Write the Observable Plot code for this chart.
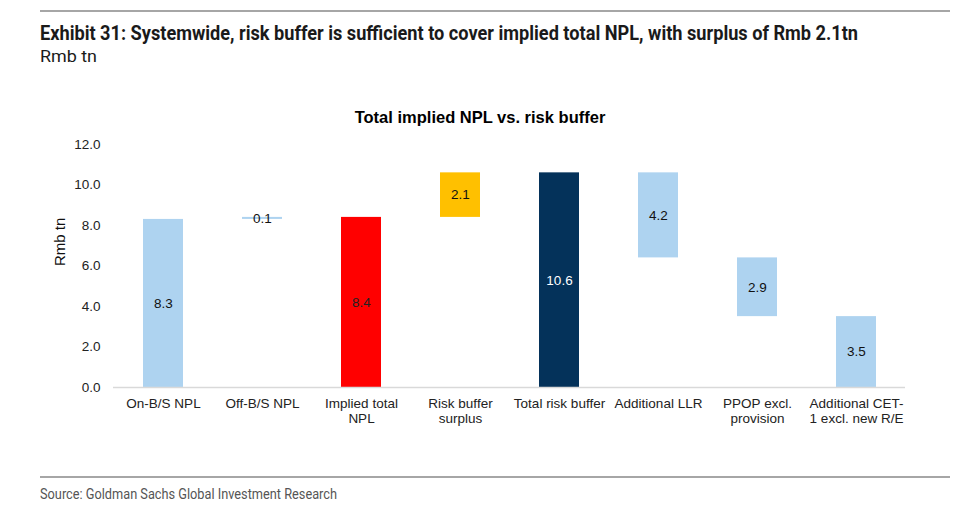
<!DOCTYPE html>
<html>
<head>
<meta charset="utf-8">
<script src="https://cdn.jsdelivr.net/npm/d3@7"></script>
<script src="https://cdn.jsdelivr.net/npm/@observablehq/plot@0.6"></script>
<style>
  html, body { margin: 0; padding: 0; background: #fff; }
  #page { position: relative; width: 960px; height: 516px; overflow: hidden; font-family: "Liberation Sans", Arial, sans-serif; }
  .rule { position: absolute; left: 40px; width: 910px; height: 2px; background: #a6a6a6; }
  .fit { position: absolute; left: 40px; white-space: nowrap; transform-origin: 0 50%; font-family: Roboto, "Liberation Sans", sans-serif; }
  #title { top: 21px; font-weight: bold; font-size: 20px; color: #1a1a1a; }
  #subtitle { top: 46px; font-size: 17px; color: #1a1a1a; }
  #ctitle { position: absolute; left: 0; width: 960px; top: 108px; text-align: center; font-weight: bold; font-size: 16.5px; color: #000; }
  #chart { position: absolute; left: 0; top: 70px; }
  #source { top: 486px; font-size: 14px; color: #555; }
</style>
</head>
<body>
<div id="page">
  <div class="rule" style="top:10px"></div>
  <div id="title" class="fit" data-w="818">Exhibit 31: Systemwide, risk buffer is sufficient to cover implied total NPL, with surplus of Rmb 2.1tn</div>
  <div id="subtitle" class="fit" data-w="57">Rmb tn</div>
  <div id="ctitle">Total implied NPL vs. risk buffer</div>
  <div id="chart"></div>
  <div class="rule" style="top:476px"></div>
  <div id="source" class="fit" data-w="297">Source: Goldman Sachs Global Investment Research</div>
</div>
<script>
const categories = ["On-B/S NPL", "Off-B/S NPL", "Implied total NPL", "Risk buffer surplus", "Total risk buffer", "Additional LLR", "PPOP excl. provision", "Additional CET-1 excl. new R/E"];
const tickLabels = ["On-B/S NPL", "Off-B/S NPL", "Implied total\nNPL", "Risk buffer\nsurplus", "Total risk buffer", "Additional LLR", "PPOP excl.\nprovision", "Additional CET-\n1 excl. new R/E"];
const barStart = [0, 8.3, 0, 8.4, 0, 6.4, 3.5, 0];
const barEnd = [8.3, 8.4, 8.4, 10.6, 10.6, 10.6, 6.4, 3.5];
const valueLabels = ["8.3", "0.1", "8.4", "2.1", "10.6", "4.2", "2.9", "3.5"];
const barKind = ["part", "part", "npl", "surplus", "buffer", "part", "part", "part"];
const yTicks = [0, 2, 4, 6, 8, 10, 12];

const kindColor = {part: "#AED3F0", npl: "#FF0000", surplus: "#FFC000", buffer: "#04325A"};
const kindText = {part: "#111", npl: "#222", surplus: "#111", buffer: "#fff"};

const data = categories.map((c, i) => ({
  cat: c, y1: barStart[i], y2: barEnd[i], label: valueLabels[i], kind: barKind[i], mid: (barStart[i] + barEnd[i]) / 2
}));
const tickMap = new Map(categories.map((c, i) => [c, tickLabels[i]]));

const chart = Plot.plot({
  width: 960,
  height: 400,
  marginLeft: 113,
  marginRight: 55,
  marginTop: 74,
  marginBottom: 83,
  style: {fontFamily: "'Liberation Sans', Arial, sans-serif", fontSize: "13.5px", color: "#222", background: "transparent"},
  x: {domain: categories, paddingInner: 0.6, paddingOuter: 0.3},
  y: {domain: [0, 12]},
  marks: [
    Plot.axisY({ticks: yTicks, tickFormat: d3.format(".1f"), tickSize: 0, tickPadding: 13, fontSize: 13.5, label: null}),
    Plot.axisX({tickSize: 0, tickPadding: 10, fontSize: 13.5, label: null, tickFormat: d => tickMap.get(d), lineHeight: 1.12}),
    Plot.text(["Rmb tn"], {frameAnchor: "left", dx: -53, rotate: -90, fontSize: 15, fill: "#111"}),
    Plot.barY(data, {x: "cat", y1: "y1", y2: "y2", fill: d => kindColor[d.kind]}),
    Plot.ruleY([0], {stroke: "#d9d9d9", strokeWidth: 1.5}),
    Plot.text(data, {x: "cat", y: "mid", text: "label", fill: d => kindText[d.kind], fontSize: 13.5})
  ]
});
document.getElementById("chart").appendChild(chart);

document.querySelectorAll(".fit").forEach(el => {
  const w = el.getBoundingClientRect().width;
  const target = +el.dataset.w;
  el.style.transform = `scaleX(${target / w})`;
});
</script>
</body>
</html>
